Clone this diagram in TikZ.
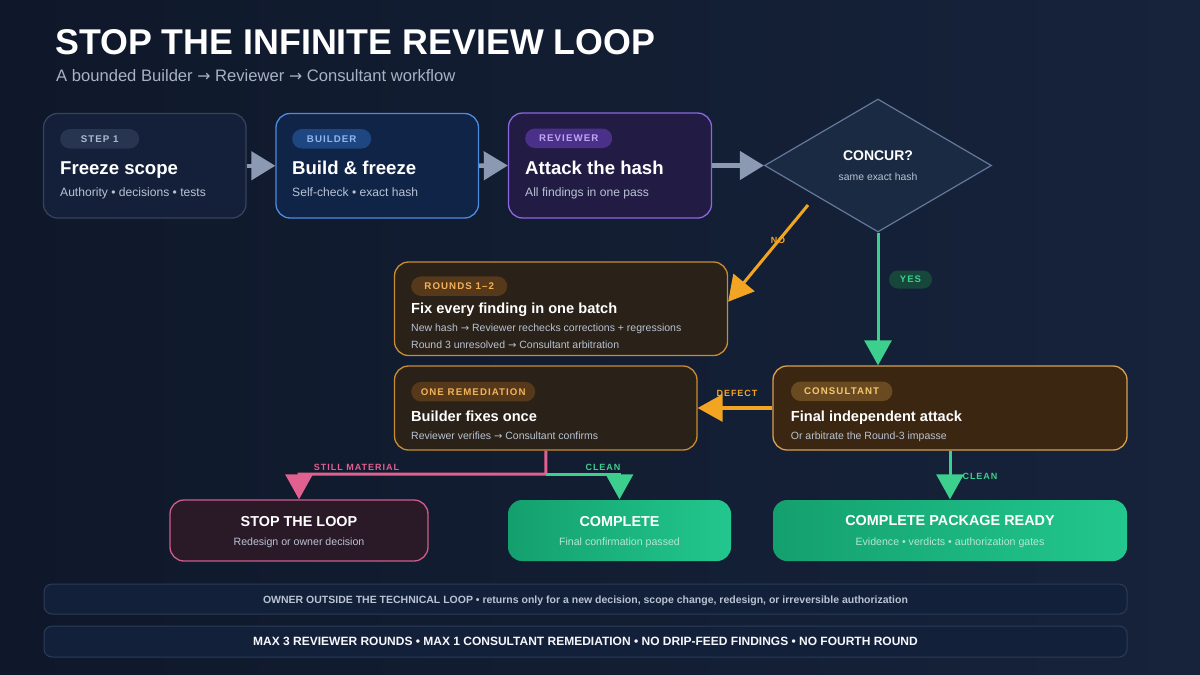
\documentclass[tikz,border=0pt]{standalone}
\usepackage{fontspec}
\setmainfont{Liberation Sans}
\newfontfamily\arrowfont{DejaVu Sans}
\usetikzlibrary{arrows.meta,calc,shapes.geometric}
\newcommand{\fsz}[1]{\fontsize{#1}{#1}\selectfont}
\newcommand{\rarr}{{\arrowfont\addfontfeature{Scale=0.95}→}}
\definecolor{bgL}{HTML}{0F182A}
\definecolor{bgM}{HTML}{0B1120}
\definecolor{bgR}{HTML}{16233B}
\definecolor{subt}{HTML}{A7B2C4}
\definecolor{bodytxt}{HTML}{B9C3D3}
\definecolor{b1fill}{HTML}{14203A}
\definecolor{b1line}{HTML}{34425A}
\definecolor{b2fill}{HTML}{0F2446}
\definecolor{b2line}{HTML}{4D8BE0}
\definecolor{b3fill}{HTML}{221C44}
\definecolor{b3line}{HTML}{8B66E0}
\definecolor{diafill}{HTML}{1A2A42}
\definecolor{dialine}{HTML}{64789A}
\definecolor{brfill}{HTML}{2A2118}
\definecolor{brline}{HTML}{C98D30}
\definecolor{consfill}{HTML}{3B2711}
\definecolor{consline}{HTML}{D9A050}
\definecolor{stopfill}{HTML}{2A1A28}
\definecolor{stopline}{HTML}{D05C8C}
\definecolor{greenL}{HTML}{14A06E}
\definecolor{greenR}{HTML}{22C78E}
\definecolor{greensub}{HTML}{B4E6D0}
\definecolor{barfill}{HTML}{12203A}
\definecolor{barline}{HTML}{2B3C58}
\definecolor{pillA}{HTML}{283550}
\definecolor{pillAt}{HTML}{AEBBD0}
\definecolor{pillB}{HTML}{1E4680}
\definecolor{pillBt}{HTML}{90B8F0}
\definecolor{pillC}{HTML}{4A3088}
\definecolor{pillCt}{HTML}{C0A6F2}
\definecolor{pillD}{HTML}{56391A}
\definecolor{pillDt}{HTML}{F2B25A}
\definecolor{pillE}{HTML}{6A4A20}
\definecolor{pillEt}{HTML}{F5C870}
\definecolor{yesfill}{HTML}{17463A}
\definecolor{arrgray}{HTML}{8B9AB2}
\definecolor{orangeA}{HTML}{F2A523}
\definecolor{pinkA}{HTML}{E0608F}
\definecolor{greenA}{HTML}{3DCF8E}
\begin{document}
\begin{tikzpicture}[x=1pt,y=-1pt,
  box/.style={rounded corners=14pt, line width=1.3pt, inner sep=0pt},
  pill/.style={rounded corners=9.75pt, minimum height=19.5pt, inner sep=0pt, anchor=west,
    font=\bfseries\fsz{9.7}\addfontfeature{LetterSpace=11}},
  bigtitle/.style={anchor=base west, inner sep=0pt, text=white, font=\bfseries\fsz{18.6}},
  bigsub/.style={anchor=base west, inner sep=0pt, text=bodytxt, font=\fsz{12.1}},
  midtitle/.style={anchor=base west, inner sep=0pt, text=white, font=\bfseries\fsz{14.6}},
  midsub/.style={anchor=base west, inner sep=0pt, text=bodytxt, font=\fsz{10.5}},
  lowtitle/.style={anchor=base, inner sep=0pt, text=white, font=\bfseries\fsz{14.4}},
  lowsub/.style={anchor=base, inner sep=0pt, font=\fsz{10.6}},
  lbl/.style={inner sep=0pt, font=\bfseries\fsz{9}\addfontfeature{LetterSpace=11}},
  garrow/.style={draw=arrgray, line width=4.5pt, -{Triangle[length=24pt,width=28pt]}},
  carrow/.style={line width=3.2pt, -{Triangle[length=25pt,width=27pt]}},
  bar/.style={draw=barline, fill=barfill, line width=1pt, rounded corners=8pt, inner sep=0pt, minimum width=1083pt}
]
\useasboundingbox (0,0) rectangle (1200,675);
\shade[left color=bgL, middle color=bgM, right color=bgR] (0,0) rectangle (1200,675);

% header
\node[anchor=base west, inner sep=0pt, text=white, font=\bfseries\fsz{35.8}] (title) at (55,54) {STOP THE INFINITE REVIEW LOOP};
\node[anchor=base west, inner sep=0pt, text=subt, font=\fsz{16.6}] (subtitle) at (56,81) {A bounded Builder \rarr{} Reviewer \rarr{} Consultant workflow};

% top row
\node[box, fill=b1fill, draw=b1line, minimum width=202.5pt, minimum height=104.5pt] (freeze) at (144.75,165.75) {};
\node[box, fill=b2fill, draw=b2line, minimum width=202.5pt, minimum height=104.5pt] (build) at (377.25,165.75) {};
\node[box, fill=b3fill, draw=b3line, minimum width=203pt, minimum height=105pt] (review) at (610,165.5) {};
\node[diamond, fill=diafill, draw=dialine, line width=1.2pt, minimum width=227pt, minimum height=133pt, inner sep=0pt] (concur) at (878,165.5) {};

\node[pill, fill=pillA, text=pillAt, minimum width=79pt] (p1) at (60,138.8) {STEP 1};
\node[bigtitle] (t1) at (60,174) {Freeze scope};
\node[bigsub] (s1) at (60,196) {Authority • decisions • tests};

\node[pill, fill=pillB, text=pillBt, minimum width=79pt] (p2) at (292,138.8) {BUILDER};
\node[bigtitle] (t2) at (292,174) {Build \& freeze};
\node[bigsub] (s2) at (292,196) {Self-check • exact hash};

\node[pill, fill=pillC, text=pillCt, minimum width=87pt] (p3) at (525,138.3) {REVIEWER};
\node[bigtitle] (t3) at (525,174) {Attack the hash};
\node[bigsub] (s3) at (525,196) {All findings in one pass};

\node[anchor=base, inner sep=0pt, text=white, font=\bfseries\fsz{14}] (ct) at (878,160.7) {CONCUR?};
\node[anchor=base, inner sep=0pt, text=bodytxt, font=\fsz{10.4}] (cs) at (878,180.7) {same exact hash};

% middle boxes
\node[box, fill=brfill, draw=brline, minimum width=333pt, minimum height=93.5pt] (rounds) at (561,308.75) {};
\node[pill, fill=pillD, text=pillDt, minimum width=96pt] (p4) at (411,286.2) {ROUNDS 1–2};
\node[midtitle] (t4) at (411,313.3) {Fix every finding in one batch};
\node[midsub] (s4a) at (411,331.7) {New hash \rarr{} Reviewer rechecks corrections + regressions};
\node[midsub] (s4b) at (411,348.3) {Round 3 unresolved \rarr{} Consultant arbitration};

\node[box, fill=brfill, draw=brline, minimum width=302.5pt, minimum height=84pt] (remed) at (545.75,408) {};
\node[pill, fill=pillD, text=pillDt, minimum width=124pt] (p5) at (411,391.7) {ONE REMEDIATION};
\node[midtitle] (t5) at (411,421.7) {Builder fixes once};
\node[midsub] (s5) at (411,439.3) {Reviewer verifies \rarr{} Consultant confirms};

\node[box, fill=consfill, draw=consline, minimum width=354pt, minimum height=84pt] (cons) at (950,408) {};
\node[pill, fill=pillE, text=pillEt, minimum width=101.5pt] (p6) at (790.7,391.3) {CONSULTANT};
\node[midtitle] (t6) at (790.7,421.7) {Final independent attack};
\node[midsub] (s6) at (790.7,439) {Or arbitrate the Round-3 impasse};

% bottom boxes
\node[box, fill=stopfill, draw=stopline, minimum width=258pt, minimum height=61pt] (stop) at (299,530.5) {};
\node[lowtitle] (t7) at (299,526) {STOP THE LOOP};
\node[lowsub, text=bodytxt] (s7) at (299,545) {Redesign or owner decision};

\node[box, left color=greenL, right color=greenR, minimum width=223pt, minimum height=61pt] (comp) at (619.5,530.5) {};
\node[lowtitle] (t8) at (619.5,526) {COMPLETE};
\node[lowsub, text=greensub] (s8) at (619.5,545) {Final confirmation passed};

\node[box, left color=greenL, right color=greenR, minimum width=354pt, minimum height=61pt] (pkg) at (950,530.5) {};
\node[lowtitle] (t9) at (950,525.7) {COMPLETE PACKAGE READY};
\node[lowsub, text=greensub] (s9) at (950,545) {Evidence • verdicts • authorization gates};

% bars
\node[bar, minimum height=30pt] (bar1) at (585.5,599) {};
\node[anchor=base, inner sep=0pt, text=bodytxt, font=\bfseries\fsz{10.5}] (bt1) at (585.5,603) {OWNER OUTSIDE THE TECHNICAL LOOP • returns only for a new decision, scope change, redesign, or irreversible authorization};
\node[bar, minimum height=31pt] (bar2) at (585.5,641.5) {};
\node[anchor=base, inner sep=0pt, text=white!88!bodytxt, font=\bfseries\fsz{12}] (bt2) at (585.5,645.8) {MAX 3 REVIEWER ROUNDS • MAX 1 CONSULTANT REMEDIATION • NO DRIP-FEED FINDINGS • NO FOURTH ROUND};

% connectors
\draw[garrow] (freeze.east) -- (build.west);
\draw[garrow] (build.east) -- (review.west);
\draw[garrow] (review.east) -- (concur.west);

\coordinate (nostart) at (808,205);
\draw[carrow, draw=orangeA, line width=3pt] (nostart) -- ([yshift=7pt]rounds.east);
\node[lbl, text=orangeA] (nolbl) at (778,240) {NO};

\draw[carrow, draw=greenA, line width=3pt] (concur.south) -- (concur.south |- cons.north);
\node[fill=yesfill, rounded corners=9pt, minimum width=43pt, minimum height=18pt, inner sep=0pt, text=greenA, font=\bfseries\fsz{9.5}\addfontfeature{LetterSpace=11}] (yes) at (910.5,279.5) {YES};

\draw[carrow, draw=orangeA] (cons.west) -- (remed.east);
\node[lbl, text=orangeA] (deflbl) at (737,393) {DEFECT};

\coordinate (split) at (546,474);
\draw[carrow, draw=pinkA, line width=3pt] (remed.south) -- (split) -| (stop.north);
\draw[carrow, draw=greenA, line width=3pt] (split) -| (comp.north);
\node[lbl, text=pinkA] (stilllbl) at (356.5,467) {STILL MATERIAL};
\node[lbl, text=greenA] (cleanlbl) at (603,467) {CLEAN};

\draw[carrow, draw=greenA, line width=3pt] (cons.south) -- (pkg.north);
\node[lbl, text=greenA] (clean2lbl) at (980,476.5) {CLEAN};
\end{tikzpicture}
\end{document}
